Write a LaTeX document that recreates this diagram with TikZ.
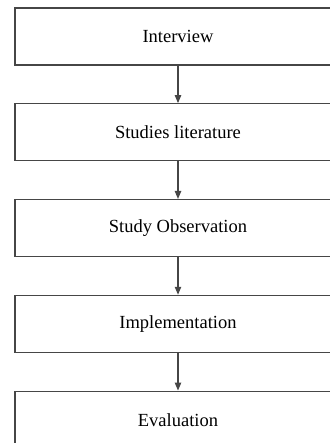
\documentclass[tikz,border=0pt]{standalone}
\usepackage{fontspec}
\setmainfont{Liberation Serif}
\usetikzlibrary{positioning,arrows.meta}
\definecolor{stepline}{RGB}{70,70,70}

\tikzset{
  stage/.style={draw=stepline,line width=0.65pt,rectangle,minimum width=163pt,minimum height=28.5pt,
    inner sep=0pt,font=\fontsize{9.25}{11}\selectfont},
  flow/.style={draw=stepline,line width=0.6pt,-{Triangle[width=3.2pt,length=4pt]}}
}

\begin{document}
\begin{tikzpicture}[x=0.5pt,y=-0.5pt,node distance=18.75pt]
\useasboundingbox (0,0) rectangle (329,443);
\node [stage] (interview) at (178,36.5) {Interview};
\node [stage,below=of interview] (literature) {Studies literature};
\node [stage,below=of literature] (observation) {Study Observation};
\node [stage,below=of observation] (implementation) {Implementation};
\node [stage,below=of implementation] (evaluation) {Evaluation};

\draw [flow] (interview) -- (literature);
\draw [flow] (literature) -- (observation);
\draw [flow] (observation) -- (implementation);
\draw [flow] (implementation) -- (evaluation);
\end{tikzpicture}
\end{document}
